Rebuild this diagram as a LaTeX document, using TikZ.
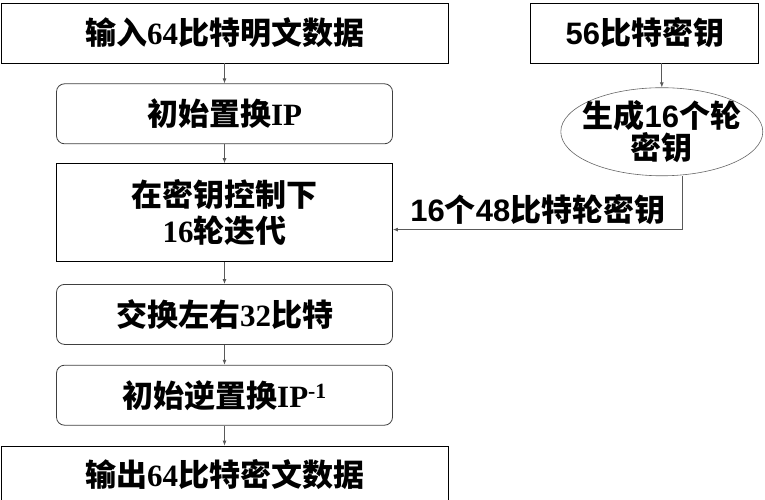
\documentclass[tikz,border=0pt]{standalone}
\usepackage{fontspec}
\setmainfont{Liberation Serif}
\newfontfamily\cjk{Noto Sans CJK SC}
\newfontfamily\hei{Liberation Sans}
\newcommand{\zh}[1]{{\cjk #1}}
\usetikzlibrary{arrows.meta, positioning, shapes.geometric}

\begin{document}
\begin{tikzpicture}[
    x=1pt, y=1pt,
    node distance=20pt,
    box/.style={draw, line width=0.8pt, minimum width=447pt, minimum height=60pt, align=center, font=\fontsize{31}{36}\selectfont\bfseries},
    stepbox/.style={box, rounded corners=8pt, draw=black!75, minimum width=336pt},
    keybox/.style={draw, line width=0.8pt, minimum width=228pt, minimum height=60pt, font=\fontsize{31}{36}\selectfont\bfseries\hei},
    arrow/.style={-{Latex[length=5pt, width=4pt]}, gray!70!black, line width=0.8pt}
]
    \useasboundingbox (0,0) rectangle (765,-500);

    \node[box] (in) at (224.5,-33) {\zh{输入}64\zh{比特明文数据}};
    \node[stepbox, below=of in] (ip) {\zh{初始置换}IP};
    \node[box, minimum width=336pt, minimum height=98pt, below=19pt of ip] (iter) {\zh{在密钥控制下}\\16\zh{轮迭代}};
    \node[stepbox, below=22pt of iter] (swap) {\zh{交换左右}32\zh{比特}};
    \node[stepbox, below=of swap] (inv) {\zh{初始逆置换}IP\textsuperscript{-1}};
    \node[box, minimum height=58pt, below=of inv] (out) {\zh{输出}64\zh{比特密文数据}};

    \node[keybox, right=82pt of in] (key) {56\zh{比特密钥}};
    \node[ellipse, draw=gray!80!black, line width=0.6pt, minimum width=202pt, minimum height=84pt,
          inner xsep=-27pt, inner ysep=0pt, align=center,
          font=\fontsize{31}{32}\selectfont\bfseries\hei,
          below=24pt of key, xshift=17pt] (gen) {\zh{生成}16\zh{个轮}\\\zh{密钥}};

    \draw[arrow] (in) -- (ip);
    \draw[arrow] (ip) -- (iter);
    \draw[arrow] (iter) -- (swap);
    \draw[arrow] (swap) -- (inv);
    \draw[arrow] (inv) -- (out);
    \draw[arrow] (key.south -| gen.north) -- (gen.north);
    \draw[arrow] ([xshift=21pt]gen.south) |- ([yshift=-17pt]iter.east)
        node[pos=0.75, above=1pt, black, font=\fontsize{31}{36}\selectfont\bfseries\hei] (lbl) {16\zh{个}48\zh{比特轮密钥}};
\end{tikzpicture}
\end{document}
